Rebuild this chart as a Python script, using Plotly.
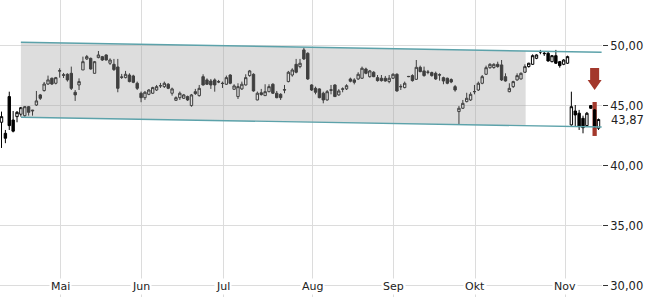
import plotly.graph_objects as go

# ---- data ----
opens = [43.64, 42.72, 45.78, 43.83, 44.11, 44.31, 44.19, 44.94, 44.58, 45.08,
         45.92, 46.28, 46.83, 47.31, 46.89, 47.90, 47.60, 47.64, 47.72, 46.14,
         46.75, 48.00, 48.92, 48.97, 47.72, 49.03, 49.11, 49.25, 48.56, 48.47,
         48.25, 47.42, 47.36, 47.58, 47.50, 46.89, 46.06, 45.69, 45.97, 46.06,
         46.33, 46.67, 46.61, 46.81, 46.06, 45.47, 45.69, 45.64, 45.78, 45.03,
         46.19, 45.86, 47.44, 47.17, 47.08, 47.17, 47.03, 46.90, 46.81, 47.58,
         46.39, 45.78, 46.42, 46.75, 47.53, 47.64, 45.50, 46.10, 45.86, 46.19,
         46.81, 46.06, 45.97, 46.36, 47.03, 47.58, 48.47, 48.28, 49.67, 49.39,
         46.75, 46.47, 46.42, 46.06, 45.50, 46.35, 46.75, 45.92, 46.39, 46.42,
         47.25, 47.17, 47.25, 47.31, 48.08, 47.44, 47.81, 47.36, 47.31, 47.31,
         47.03, 47.31, 47.64, 46.63, 46.53, 47.44, 47.53, 47.22, 48.22, 47.92,
         47.83, 47.78, 47.72, 47.60, 47.36, 47.31, 47.20, 46.61, 44.53, 44.81,
         45.36, 45.50, 46.20, 46.33, 46.89, 47.64, 48.19, 48.20, 48.47, 48.42,
         47.44, 46.19, 46.61, 47.17, 47.25, 47.81, 48.28, 48.47, 48.97, 49.53,
         49.39, 49.39, 48.69, 49.19, 48.69, 48.47, 48.56, 43.42, 44.58, 44.40,
         43.97, 43.36, 45.03, 44.67, 43.14]
highs = [44.53, 43.00, 46.19, 44.58, 44.58, 44.92, 45.00, 45.00, 44.67, 46.25,
         46.00, 47.00, 47.53, 47.36, 47.42, 48.14, 47.75, 47.72, 48.28, 46.33,
         47.30, 49.11, 49.25, 49.03, 48.75, 49.58, 49.17, 49.30, 48.97, 48.92,
         48.92, 47.67, 47.92, 47.72, 47.60, 47.03, 46.20, 46.25, 46.40, 46.60,
         46.75, 46.92, 47.03, 46.90, 46.53, 45.80, 46.20, 46.00, 45.86, 46.00,
         46.42, 46.75, 47.64, 47.30, 47.25, 47.30, 47.17, 47.03, 47.53, 47.64,
         46.81, 46.89, 47.03, 47.64, 48.00, 47.72, 46.20, 46.42, 46.81, 46.81,
         46.89, 46.25, 46.06, 46.75, 47.92, 48.14, 48.92, 48.92, 49.86, 49.47,
         46.81, 46.61, 46.47, 46.19, 46.33, 46.75, 46.81, 46.40, 46.55, 46.81,
         47.36, 47.31, 47.81, 48.28, 48.19, 48.00, 47.90, 47.58, 47.58, 47.50,
         47.58, 47.72, 47.72, 46.81, 47.03, 47.50, 47.64, 48.83, 48.36, 48.28,
         48.00, 47.86, 47.86, 47.72, 47.44, 47.36, 47.30, 46.75, 45.00, 45.50,
         46.10, 46.14, 46.75, 47.03, 47.58, 48.36, 48.56, 48.56, 48.69, 48.83,
         47.72, 46.89, 47.10, 47.72, 47.80, 48.47, 48.60, 49.30, 49.30, 49.67,
         49.53, 49.53, 49.25, 49.67, 48.75, 48.90, 49.19, 46.19, 45.08, 44.67,
         44.19, 44.50, 45.08, 44.75, 43.95]
lows = [41.50, 41.90, 43.00, 42.80, 43.64, 44.11, 44.10, 44.19, 44.19, 45.00,
        45.50, 46.20, 46.75, 46.75, 46.80, 47.36, 47.33, 47.03, 46.33, 45.42,
        46.33, 48.00, 48.83, 48.03, 47.70, 48.97, 48.75, 48.80, 48.42, 47.92,
        46.14, 47.25, 47.30, 46.97, 46.90, 46.33, 45.31, 45.50, 45.90, 46.00,
        46.25, 46.50, 46.50, 46.40, 45.86, 45.42, 45.50, 45.58, 45.42, 44.94,
        45.92, 45.78, 46.70, 46.75, 46.42, 46.19, 46.90, 46.50, 46.75, 46.81,
        46.33, 45.58, 46.33, 46.70, 47.44, 46.19, 45.47, 45.86, 45.83, 46.14,
        46.00, 45.64, 45.50, 46.06, 46.97, 47.44, 47.72, 48.14, 48.83, 47.17,
        46.25, 45.97, 45.64, 45.22, 45.44, 45.97, 45.75, 45.85, 46.14, 46.33,
        46.97, 46.80, 47.17, 47.25, 47.64, 47.36, 47.40, 47.03, 47.03, 47.03,
        46.89, 47.25, 46.19, 46.33, 46.47, 47.40, 47.03, 47.17, 47.81, 47.44,
        47.64, 47.44, 47.17, 47.11, 46.81, 46.81, 46.90, 46.19, 43.42, 44.75,
        45.30, 45.42, 45.97, 46.25, 46.81, 47.58, 48.10, 48.10, 48.19, 47.08,
        47.03, 46.14, 46.50, 47.10, 47.20, 47.75, 48.20, 48.42, 48.90, 49.31,
        49.17, 48.69, 48.64, 48.50, 48.19, 48.40, 48.50, 43.36, 43.28, 43.00,
        42.72, 43.30, 44.75, 43.20, 43.00]
closes = [44.11, 42.31, 43.36, 42.90, 44.47, 44.86, 44.94, 44.47, 44.64, 45.42,
          45.64, 46.83, 47.17, 46.83, 47.36, 47.94, 47.56, 47.17, 46.47, 45.92,
          47.03, 48.69, 49.11, 48.08, 48.69, 49.25, 48.83, 48.83, 48.83, 48.03,
          46.47, 47.39, 47.64, 47.03, 46.97, 46.47, 45.69, 46.14, 46.33, 46.53,
          46.61, 46.69, 46.89, 46.47, 46.42, 45.69, 46.06, 45.92, 45.50, 45.92,
          46.03, 46.47, 46.75, 46.81, 46.75, 46.75, 47.00, 46.87, 47.36, 46.89,
          46.67, 46.61, 46.81, 47.36, 47.92, 46.25, 46.06, 45.95, 46.19, 46.61,
          46.06, 45.69, 45.69, 46.33, 47.81, 48.00, 47.81, 48.56, 48.92, 47.25,
          46.33, 46.14, 45.69, 45.50, 46.19, 46.31, 45.78, 46.25, 46.42, 46.69,
          47.06, 46.97, 47.64, 48.14, 47.72, 47.92, 47.44, 47.11, 47.11, 47.08,
          47.31, 47.64, 46.25, 46.60, 46.89, 47.46, 47.11, 48.22, 47.86, 47.53,
          47.81, 47.53, 47.25, 47.58, 47.08, 46.89, 47.00, 46.33, 44.81, 45.22,
          45.64, 45.97, 46.19, 46.89, 47.44, 48.19, 48.47, 48.47, 48.28, 47.17,
          47.08, 46.47, 47.03, 47.53, 47.72, 48.28, 48.56, 49.19, 49.25, 49.50,
          49.36, 48.75, 49.19, 48.56, 48.36, 48.83, 49.11, 44.94, 44.25, 43.28,
          43.19, 44.39, 44.81, 43.28, 43.87]
idx = list(range(len(opens)))

month_labels = ["Mai", "Jun", "Jul", "Aug", "Sep", "Okt", "Nov"]
month_pos = [15.2, 36.1, 57.2, 80.1, 101.2, 122.2, 145.4]
y_ticks = [30, 35, 40, 45, 50]

channel_x = [5.0, 154.8]
channel_top = [50.31, 49.47]
channel_bottom = [44.06, 43.25]
channel_fill_end = 135.2

signal_idx = 153
signal_high = 45.33
signal_low = 42.5

# ---- figure ----
def line_at(xs, ys, x):
    return ys[0] + (ys[1] - ys[0]) * (x - xs[0]) / (xs[1] - xs[0])

fx = [channel_x[0], channel_fill_end, channel_fill_end, channel_x[0]]
fy = [channel_top[0], line_at(channel_x, channel_top, channel_fill_end),
      line_at(channel_x, channel_bottom, channel_fill_end), channel_bottom[0]]

teal = "rgb(92,162,170)"
grid = "#dcdcdc"
red = "rgb(163,56,44)"
font = dict(family="DejaVu Sans", size=11.5, color="#222")

fig = go.Figure()
fig.add_trace(go.Scatter(x=fx, y=fy, fill="toself", mode="lines",
                         line=dict(width=0), fillcolor="rgba(166,166,166,0.38)",
                         hoverinfo="skip", showlegend=False))
fig.add_trace(go.Scatter(x=channel_x, y=channel_top, mode="lines",
                         line=dict(color=teal, width=1.4), showlegend=False))
fig.add_trace(go.Scatter(x=channel_x, y=channel_bottom, mode="lines",
                         line=dict(color=teal, width=1.4), showlegend=False))
fig.add_trace(go.Candlestick(
    x=idx, open=opens, high=highs, low=lows, close=closes,
    increasing=dict(line=dict(color="black", width=1), fillcolor="white"),
    decreasing=dict(line=dict(color="black", width=1), fillcolor="black"),
    whiskerwidth=0, showlegend=False))

fig.add_shape(type="rect", xref="x", yref="y",
              x0=signal_idx - 0.55, x1=signal_idx + 0.55,
              y0=signal_low, y1=signal_high,
              fillcolor=red, line=dict(width=0), layer="between")
fig.add_shape(type="path", xref="x", yref="y",
              xsizemode="pixel", ysizemode="pixel",
              xanchor=signal_idx, yanchor=signal_high,
              path="M -4.5,34 L 4.5,34 L 4.5,22 L 7,22 L 0,12 L -7,22 L -4.5,22 Z",
              fillcolor=red, line=dict(width=0), layer="above")

for lab, pos in zip(month_labels, month_pos):
    fig.add_annotation(x=pos, xref="x", y=0, yref="paper", yanchor="middle",
                       yshift=10.5, text=lab, showarrow=False, bgcolor="white",
                       font=dict(family="DejaVu Sans", size=11, color="#222"),
                       borderpad=1)

fig.add_annotation(x=1, xref="paper", xanchor="left", xshift=7,
                   y=closes[-1], yref="y", yanchor="middle",
                   text=f"{closes[-1]:.2f}".replace(".", ","),
                   showarrow=False, font=font)

fig.update_layout(
    width=650, height=300,
    margin=dict(l=0, r=48, t=0, b=3),
    paper_bgcolor="white", plot_bgcolor="white",
    separators=",.",
    showlegend=False,
    boxgap=0.12,
    xaxis=dict(range=[-0.39, 154.9], tickvals=month_pos, showticklabels=False,
               showgrid=True, gridcolor=grid, gridwidth=1, zeroline=False,
               ticks="", rangeslider=dict(visible=False), showline=False),
    yaxis=dict(side="right", range=[29.08, 53.83], tickvals=y_ticks,
               tickformat=".2f", ticks="outside", ticklen=5, tickcolor="#333",
               tickfont=font, showgrid=True, gridcolor=grid, gridwidth=1,
               zeroline=False, showline=False),
)

fig.write_html("out.html")
